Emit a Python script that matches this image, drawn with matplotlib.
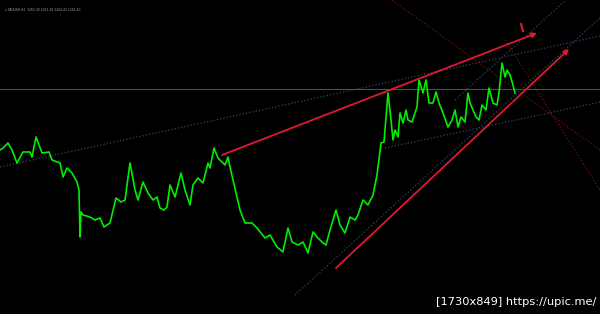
import matplotlib.pyplot as plt

# price path (bar position, level; level axis is drawn top-down)
bars = [0, 3, 8, 12, 17, 23, 30, 32, 36, 42, 49, 52, 60, 63, 67, 72, 77, 79, 80, 81,
        83, 90, 95, 100, 104, 110, 116, 121, 125, 130, 135, 138, 143, 148, 153, 157, 160, 164,
        167, 170, 175, 181, 185, 190, 193, 198, 203, 208, 210, 214, 218, 222, 225, 228, 230,
        233, 237, 240, 245, 252, 257, 265, 270, 277, 283, 288, 292, 298, 303, 308, 313, 318,
        323, 326, 330, 336, 340, 345, 350, 355, 358, 363, 368, 373, 377, 381, 384, 388, 391,
        393, 395, 398, 400, 403, 406, 408, 412, 417, 419, 423, 426, 429, 433, 436, 439, 443,
        448, 452, 455, 458, 461, 465, 468, 470, 473, 476, 479, 482, 486, 489, 493, 497, 499,
        502, 505, 507, 510, 513, 515]
levels = [150, 148, 143, 150, 163, 152, 152, 157, 137, 153, 152, 160, 163, 177, 168, 173, 182, 190, 237, 212,
          215, 217, 220, 218, 227, 223, 198, 202, 200, 163, 190, 200, 182, 193, 200, 197, 208, 210,
          207, 185, 197, 173, 190, 205, 185, 178, 183, 163, 168, 148, 158, 162, 165, 157, 167,
          180, 197, 210, 223, 223, 228, 238, 235, 247, 252, 228, 242, 245, 242, 253, 232, 238,
          243, 245, 230, 210, 225, 233, 217, 220, 215, 200, 205, 195, 175, 143, 142, 93, 120,
          140, 130, 137, 113, 123, 110, 120, 122, 107, 80, 93, 80, 103, 103, 92, 103, 113,
          127, 120, 110, 127, 117, 122, 93, 103, 110, 117, 120, 105, 110, 88, 103, 105, 93,
          63, 77, 70, 75, 85, 93]

# trend lines (start, end) in (bar, level)
red_arrows = [((222, 155), (537, 33)), ((336, 268), (569, 49))]
blue_dotted = [((0, 167), (600, 36)), ((385, 148), (600, 102)),
               ((455, 100), (566, 0)), ((295, 295), (600, 18))]
red_dotted = [((392, 0), (600, 150)), ((505, 40), (600, 190))]
hline_level = 89

fig = plt.figure(figsize=(6, 3.14), dpi=100, facecolor='black')
ax = fig.add_axes([0, 0, 1, 1])
ax.set_facecolor('black')
ax.set_xlim(0, 600)
ax.set_ylim(314, 0)
ax.axis('off')

ax.axhline(hline_level, color='#44525a', lw=0.8)

for (x0, y0), (x1, y1) in blue_dotted:
    ax.plot([x0, x1], [y0, y1], color='#2c4a66', lw=0.9, ls=':')
for (x0, y0), (x1, y1) in red_dotted:
    ax.plot([x0, x1], [y0, y1], color='#6e1616', lw=0.9, ls=':')

ax.plot(bars, levels, color='#00ee00', lw=1.2)

for (x0, y0), (x1, y1) in red_arrows:
    ax.annotate('', xy=(x1, y1), xytext=(x0, y0),
                arrowprops=dict(arrowstyle='-|>', color='#e01830', lw=1.3, mutation_scale=7,
                                shrinkA=0, shrinkB=0))
ax.plot([521, 523], [24, 31], color='#e01830', lw=1.5)

ax.text(5, 10, '\u25b8 XAUUSD,H4  1265.40 1265.40 1264.40 1266.40', color='#a0a0a0',
        fontsize=2.2, va='center')
ax.text(596, 302, '[1730x849] https://upic.me/', color='white', fontsize=8.2,
        ha='right', va='center')

fig.savefig('out.png', dpi=100, facecolor='black')
